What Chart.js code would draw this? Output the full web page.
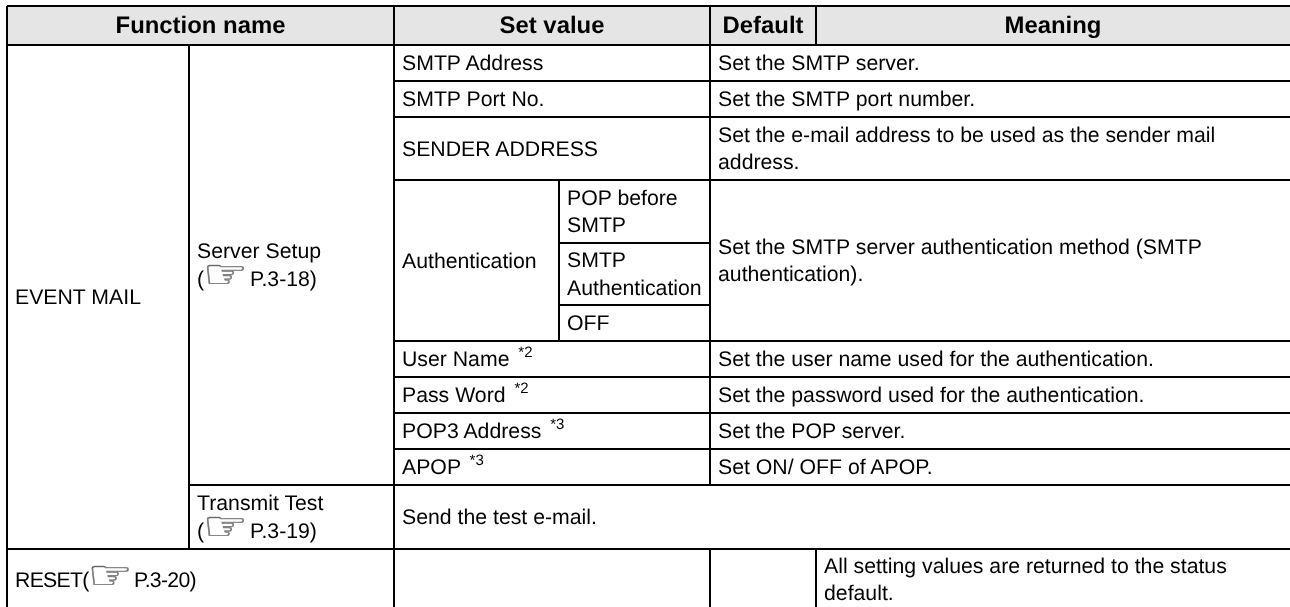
<!DOCTYPE html>
<html>
<head>
<meta charset="utf-8">
<style>
  html, body { margin: 0; padding: 0; background: #fff; }
  canvas { display: block; }
</style>
<script src="https://cdn.jsdelivr.net/npm/chart.js@4"></script>
</head>
<body>
<canvas id="table" width="1290" height="607"></canvas>
<script>
// table grid, in picture units on the two linear scales
const columnEdges = [7, 189, 394, 559, 710, 816, 1293];
const rowEdges = [6, 45, 81, 117, 180, 243, 305, 341, 377, 413, 449, 485, 549, 610];

const headerLabels = ["Function name", "Set value", "Default", "Meaning"];
const headerColumns = [[0, 2], [2, 4], [4, 5], [5, 6]];

// "\n" breaks a line, *2 / *3 are footnote marks, ☞ is the page reference hand
const cellLabels = [
  "EVENT MAIL",
  "Server Setup\n(☞ P.3-18)",
  "SMTP Address", "Set the SMTP server.",
  "SMTP Port No.", "Set the SMTP port number.",
  "SENDER ADDRESS", "Set the e-mail address to be used as the sender mail\naddress.",
  "Authentication", "POP before\nSMTP", "SMTP\nAuthentication", "OFF",
  "Set the SMTP server authentication method (SMTP\nauthentication).",
  "User Name *2", "Set the user name used for the authentication.",
  "Pass Word *2", "Set the password used for the authentication.",
  "POP3 Address *3", "Set the POP server.",
  "APOP *3", "Set ON/ OFF of APOP.",
  "Transmit Test\n(☞ P.3-19)", "Send the test e-mail.",
  "RESET(☞ P.3-20)", "", "",
  "All setting values are returned to the status\ndefault."
];
const cellColumns = [
  [0, 1], [1, 2],
  [2, 4], [4, 6],
  [2, 4], [4, 6],
  [2, 4], [4, 6],
  [2, 3], [3, 4], [3, 4], [3, 4],
  [4, 6],
  [2, 4], [4, 6],
  [2, 4], [4, 6],
  [2, 4], [4, 6],
  [2, 4], [4, 6],
  [1, 2], [2, 6],
  [0, 2], [2, 4], [4, 5],
  [5, 6]
];
const cellRows = [
  [1, 12], [1, 11],
  [1, 2], [1, 2],
  [2, 3], [2, 3],
  [3, 4], [3, 4],
  [4, 7], [4, 5], [5, 6], [6, 7],
  [4, 7],
  [7, 8], [7, 8],
  [8, 9], [8, 9],
  [9, 10], [9, 10],
  [10, 11], [10, 11],
  [11, 12], [11, 12],
  [12, 13], [12, 13], [12, 13],
  [12, 13]
];

const BODY_FONT = '21.25px "Liberation Sans", Arial, sans-serif';
const HEADER_FONT = 'bold 23.9px "Liberation Sans", Arial, sans-serif';
const SUP_FONT = '15px "Liberation Sans", Arial, sans-serif';
const HAND_FONT = '44px "DejaVu Sans"';
const LINE_HEIGHT = 27.5;
const CELL_PAD = 8;
const RULE_WIDTH = 2;

const cellBox = (cols, rows) => {
  const x0 = columnEdges[cols[0]], x1 = columnEdges[cols[1]];
  const y0 = rowEdges[rows[0]], y1 = rowEdges[rows[1]];
  return [{ x: x0, y: y0 }, { x: x1, y: y0 }, { x: x1, y: y1 }, { x: x0, y: y1 }, { x: x0, y: y0 }];
};

const ruleDataset = (cols, rows) => ({
  data: cellBox(cols, rows),
  showLine: true,
  fill: false,
  borderColor: "#000",
  borderWidth: RULE_WIDTH,
  borderJoinStyle: "miter",
  pointRadius: 0,
  tension: 0,
  order: 0
});

const headerBand = {
  data: [{ x: columnEdges[0], y: rowEdges[0] }, { x: columnEdges[6], y: rowEdges[0] }],
  showLine: true,
  fill: { target: { value: rowEdges[1] } },
  backgroundColor: "#e5e5e5",
  borderWidth: 0,
  pointRadius: 0,
  order: 1
};

// draws one line of body text, switching font for the hand and the footnote marks
const drawLine = (ctx, line, x, y) => {
  let cx = x;
  // the RESET line is set tighter in the original
  ctx.letterSpacing = line.startsWith("RESET") ? "-0.7px" : "0px";
  line.split(/(☞|\*\d)/).filter(Boolean).forEach((run) => {
    if (run === "☞") {
      ctx.save();
      ctx.font = HAND_FONT;
      ctx.fillStyle = "#444";
      ctx.strokeStyle = "#888";
      ctx.lineWidth = 0.6;
      ctx.translate(cx - 1.3, y + 2.5);
      ctx.scale(1.15, 0.92);
      ctx.fillText(run, 0, 0);
      ctx.strokeText(run, 0, 0);
      ctx.restore();
      cx += 40;
    } else if (/^\*\d$/.test(run)) {
      ctx.save();
      ctx.font = SUP_FONT;
      cx += 3;
      ctx.fillText(run, cx, y - 9);
      ctx.restore();
    } else {
      ctx.font = BODY_FONT;
      ctx.fillText(run, cx, y);
      cx += ctx.measureText(run).width;
    }
  });
  ctx.letterSpacing = "0px";
};

const tableText = {
  id: "tableText",
  afterDatasetsDraw(chart) {
    const { ctx, scales } = chart;
    ctx.save();
    ctx.fillStyle = "#000";
    ctx.textBaseline = "alphabetic";
    ctx.textRendering = "geometricPrecision";

    ctx.textAlign = "center";
    ctx.font = HEADER_FONT;
    headerLabels.forEach((label, i) => {
      const x0 = scales.x.getPixelForValue(columnEdges[headerColumns[i][0]]);
      const x1 = scales.x.getPixelForValue(Math.min(columnEdges[headerColumns[i][1]], 1290));
      const yMid = (scales.y.getPixelForValue(rowEdges[0]) + scales.y.getPixelForValue(rowEdges[1])) / 2;
      ctx.fillText(label, (x0 + x1) / 2, yMid + 7);
    });

    ctx.textAlign = "left";
    cellLabels.forEach((label, i) => {
      if (!label) return;
      const x = scales.x.getPixelForValue(columnEdges[cellColumns[i][0]]) + CELL_PAD;
      const y0 = scales.y.getPixelForValue(rowEdges[cellRows[i][0]]);
      const y1 = scales.y.getPixelForValue(rowEdges[cellRows[i][1]]);
      const lines = label.split("\n");
      const top = (y0 + y1) / 2 - (lines.length - 1) * LINE_HEIGHT / 2;
      lines.forEach((line, k) => drawLine(ctx, line, x, top + k * LINE_HEIGHT + 7));
    });
    ctx.restore();
  }
};

new Chart(document.getElementById("table").getContext("2d"), {
  type: "scatter",
  data: {
    datasets: [
      ...headerColumns.map((cols) => ruleDataset(cols, [0, 1])),
      ...cellLabels.map((_, i) => ruleDataset(cellColumns[i], cellRows[i])),
      headerBand
    ]
  },
  options: {
    responsive: false,
    animation: false,
    layout: { padding: 0 },
    scales: {
      x: { type: "linear", display: false, min: 0, max: 1290 },
      y: { type: "linear", display: false, min: 0, max: 607, reverse: true }
    },
    plugins: { legend: { display: false }, tooltip: { enabled: false } }
  },
  plugins: [tableText]
});
</script>
</body>
</html>
